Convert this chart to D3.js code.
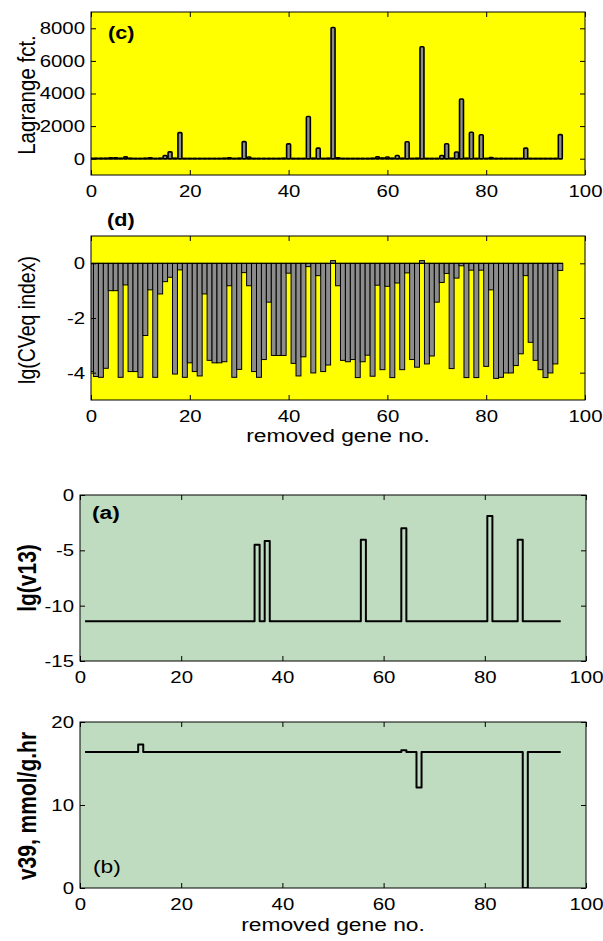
<!DOCTYPE html>
<html>
<head>
<meta charset="utf-8">
<script src="https://cdn.jsdelivr.net/npm/d3@7"></script>
<style>
  body { margin: 0; background: #fff; }
  svg { display: block; }
</style>
</head>
<body>
<svg id="fig" width="603" height="941"></svg>
<script>
// ---- data ---------------------------------------------------------------
// genes 0..95 for the bar panels (c) and (d)
const barGenes = d3.range(0, 96);

// (c) Lagrange function per removed gene
const lagrange = [
  20, 20, 20, 30, 60, 60, 30, 110, 20, 10,
  10, 20, 50, 10, 20, 200, 420, 30, 1600, 10,
  10, 10, 10, 10, 10, 10, 10, 20, 60, 10,
  20, 1050, 100, 10, 10, 10, 10, 10, 10, 20,
  910, 10, 10, 10, 2590, 20, 650, 10, 20, 8050,
  60, 10, 10, 10, 10, 10, 10, 20, 110, 40,
  100, 20, 200, 20, 1040, 10, 20, 6870, 10, 10,
  10, 200, 920, 20, 410, 3660, 20, 1620, 10, 1470,
  10, 70, 10, 10, 10, 10, 10, 10, 650, 10,
  10, 10, 10, 10, 10, 1480
];

// (d) lg(CVeq index) per removed gene
const cveq = [
  -3.96, -4.14, -4.17, -3.84, -1.00, -1.00, -4.17, -0.79, -3.96, -3.96,
  -4.17, -2.64, -0.97, -4.17, -1.12, -0.67, -0.51, -4.05, -0.24, -4.17,
  -3.64, -3.96, -4.12, -1.12, -3.55, -3.64, -3.64, -3.60, -0.82, -4.17,
  -3.88, -0.34, -0.82, -3.96, -4.17, -3.52, -1.42, -3.37, -3.37, -3.37,
  -0.36, -3.66, -4.12, -3.42, -0.12, -4.01, -0.45, -3.96, -3.72, 0.10,
  -0.82, -3.55, -3.60, -3.52, -4.18, -3.60, -3.36, -4.13, -0.80, -3.89,
  -0.84, -4.18, -0.72, -3.89, -0.35, -3.52, -3.80, 0.10, -3.68, -3.39,
  -1.42, -0.70, -0.37, -3.85, -0.54, -0.09, -4.18, -0.25, -4.18, -0.25,
  -3.77, -0.97, -4.21, -4.17, -4.01, -4.01, -3.74, -3.31, -0.45, -2.89,
  -3.55, -3.89, -4.18, -4.01, -3.68, -0.26
];

// genes 1..95 for the line panels (a) and (b)
const lineGenes = d3.range(1, 96);

// (a) lg(v13)
const lgV13 = [
  -11.4, -11.4, -11.4, -11.4, -11.4, -11.4, -11.4, -11.4, -11.4, -11.4,
  -11.4, -11.4, -11.4, -11.4, -11.4, -11.4, -11.4, -11.4, -11.4, -11.4,
  -11.4, -11.4, -11.4, -11.4, -11.4, -11.4, -11.4, -11.4, -11.4, -11.4,
  -11.4, -11.4, -11.4, -11.4, -4.5, -11.4, -4.15, -11.4, -11.4, -11.4,
  -11.4, -11.4, -11.4, -11.4, -11.4, -11.4, -11.4, -11.4, -11.4, -11.4,
  -11.4, -11.4, -11.4, -11.4, -11.4, -4.05, -11.4, -11.4, -11.4, -11.4,
  -11.4, -11.4, -11.4, -3.0, -11.4, -11.4, -11.4, -11.4, -11.4, -11.4,
  -11.4, -11.4, -11.4, -11.4, -11.4, -11.4, -11.4, -11.4, -11.4, -11.4,
  -1.9, -11.4, -11.4, -11.4, -11.4, -11.4, -4.05, -11.4, -11.4, -11.4,
  -11.4, -11.4, -11.4, -11.4, -11.4
];

// (b) v39, mmol/g.hr
const v39 = [
  16.4, 16.4, 16.4, 16.4, 16.4, 16.4, 16.4, 16.4, 16.4, 16.4,
  16.4, 17.3, 16.4, 16.4, 16.4, 16.4, 16.4, 16.4, 16.4, 16.4,
  16.4, 16.4, 16.4, 16.4, 16.4, 16.4, 16.4, 16.4, 16.4, 16.4,
  16.4, 16.4, 16.4, 16.4, 16.4, 16.4, 16.4, 16.4, 16.4, 16.4,
  16.4, 16.4, 16.4, 16.4, 16.4, 16.4, 16.4, 16.4, 16.4, 16.4,
  16.4, 16.4, 16.4, 16.4, 16.4, 16.4, 16.4, 16.4, 16.4, 16.4,
  16.4, 16.4, 16.4, 16.6, 16.4, 16.4, 12.1, 16.4, 16.4, 16.4,
  16.4, 16.4, 16.4, 16.4, 16.4, 16.4, 16.4, 16.4, 16.4, 16.4,
  16.4, 16.4, 16.4, 16.4, 16.4, 16.4, 16.4, 0, 16.4, 16.4,
  16.4, 16.4, 16.4, 16.4, 16.4
];

// tick values
const geneTicks = [0, 20, 40, 60, 80, 100];
const lagrangeTicks = [0, 2000, 4000, 6000, 8000];
const cveqTicks = [-4, -2, 0];
const v13Ticks = [-15, -10, -5, 0];
const v39Ticks = [0, 10, 20];

// ---- drawing ------------------------------------------------------------
const FONT = "'Liberation Sans', Arial, Helvetica, sans-serif";
const SX = 1.2;              // lettering is drawn slightly wide
const YELLOW = "#ffff00";
const GREEN = "#c0dcc0";
const BAR_GRAY = "#8c8c8c";
const svg = d3.select("#fig");
const fmt = d => String(d);

function panel(o) {
  const x = d3.scaleLinear().domain([0, 100]).range([o.left, o.right]);
  const y = d3.scaleLinear().domain(o.yDomain).range([o.bottom, o.top]);
  const g = svg.append("g");

  g.append("rect")
    .attr("x", o.left).attr("y", o.top)
    .attr("width", o.right - o.left).attr("height", o.bottom - o.top)
    .attr("fill", o.bg);

  g.append("clipPath").attr("id", "clip-" + o.id)
    .append("rect")
    .attr("x", o.left).attr("y", o.top)
    .attr("width", o.right - o.left).attr("height", o.bottom - o.top);

  const plot = g.append("g").attr("clip-path", `url(#clip-${o.id})`);

  const styleAxis = sel => {
    sel.attr("font-size", 17).attr("font-family", FONT);
    sel.select(".domain").remove();
    sel.selectAll(".tick line").attr("stroke", "#000").attr("stroke-width", 1);
    sel.selectAll(".tick text").attr("fill", "#000").attr("transform", `scale(${SX},1)`);
  };

  const axes = g.append("g");
  axes.append("g").attr("transform", `translate(0,${o.bottom})`)
    .call(d3.axisBottom(x).tickValues(geneTicks).tickSize(-5).tickPadding(10).tickFormat(fmt))
    .call(styleAxis);
  axes.append("g").attr("transform", `translate(0,${o.top})`)
    .call(d3.axisTop(x).tickValues(geneTicks).tickSize(-5).tickFormat(""))
    .call(styleAxis);
  axes.append("g").attr("transform", `translate(${o.left},0)`)
    .call(d3.axisLeft(y).tickValues(o.yTicks).tickSize(-5).tickPadding(5).tickFormat(fmt))
    .call(styleAxis);
  axes.append("g").attr("transform", `translate(${o.right},0)`)
    .call(d3.axisRight(y).tickValues(o.yTicks).tickSize(-5).tickFormat(""))
    .call(styleAxis);

  return { g, plot, axes, x, y, o };
}

function finishBox(p) {
  const o = p.o;
  p.g.append("rect")
    .attr("x", o.left).attr("y", o.top)
    .attr("width", o.right - o.left).attr("height", o.bottom - o.top)
    .attr("fill", "none").attr("stroke", "#000").attr("stroke-width", 1);
}

function label(str, x, y, opt = {}) {
  svg.append("text")
    .text(str)
    .attr("font-family", FONT)
    .attr("font-size", opt.size || 18)
    .attr("font-weight", opt.bold ? "bold" : "normal")
    .attr("text-anchor", opt.anchor || "start")
    .attr("fill", "#000")
    .attr("transform", `translate(${x},${y}) scale(${SX},1)` + (opt.rotate ? " rotate(-90)" : ""));
}

// (c) Lagrange function bars
const pc = panel({ id: "c", left: 91, right: 585, top: 12, bottom: 175,
  yDomain: [-1000, 9000], yTicks: lagrangeTicks, bg: YELLOW });
pc.plot.append("line")
  .attr("x1", pc.x(-0.5)).attr("x2", pc.x(95.5))
  .attr("y1", pc.y(0)).attr("y2", pc.y(0))
  .attr("stroke", "#000").attr("stroke-width", 1.8);
pc.plot.selectAll("rect.bar")
  .data(barGenes.map(i => ({ gene: i, v: lagrange[i] })))
  .join("rect").attr("class", "bar")
  .attr("x", d => pc.x(d.gene - 0.4))
  .attr("width", pc.x(0.8) - pc.x(0))
  .attr("y", d => pc.y(Math.max(0, d.v)))
  .attr("height", d => Math.abs(pc.y(d.v) - pc.y(0)))
  .attr("rx", 1)
  .attr("fill", BAR_GRAY).attr("stroke", "#000").attr("stroke-width", 1.6);
finishBox(pc);

// (d) lg(CVeq index) bars
const pd = panel({ id: "d", left: 91, right: 585, top: 236, bottom: 400,
  yDomain: [-5, 1], yTicks: cveqTicks, bg: YELLOW });
pd.plot.selectAll("rect.bar")
  .data(barGenes.map(i => ({ gene: i, v: cveq[i] })))
  .join("rect").attr("class", "bar")
  .attr("x", d => pd.x(d.gene - 0.5))
  .attr("width", pd.x(1) - pd.x(0))
  .attr("y", d => pd.y(Math.max(0, d.v)))
  .attr("height", d => Math.abs(pd.y(d.v) - pd.y(0)))
  .attr("fill", BAR_GRAY).attr("stroke", "#000").attr("stroke-width", 1);
pd.plot.append("line")
  .attr("x1", pd.x(-0.5)).attr("x2", pd.x(95.5))
  .attr("y1", pd.y(0)).attr("y2", pd.y(0))
  .attr("stroke", "#000").attr("stroke-width", 1);
finishBox(pd);

// (a) lg(v13) step line
const pa = panel({ id: "a", left: 80, right: 586, top: 495, bottom: 661,
  yDomain: [-15, 0], yTicks: v13Ticks, bg: GREEN });
pa.plot.append("path")
  .datum(lineGenes.map((gnum, i) => [gnum, lgV13[i]]))
  .attr("d", d3.line().x(d => pa.x(d[0])).y(d => pa.y(d[1])).curve(d3.curveStep))
  .attr("fill", "none").attr("stroke", "#000").attr("stroke-width", 2)
  .attr("stroke-linejoin", "round");
finishBox(pa);

// (b) v39 step line
const pb = panel({ id: "b", left: 80, right: 586, top: 722, bottom: 888,
  yDomain: [0, 20], yTicks: v39Ticks, bg: GREEN });
pb.plot.append("path")
  .datum(lineGenes.map((gnum, i) => [gnum, v39[i]]))
  .attr("d", d3.line().x(d => pb.x(d[0])).y(d => pb.y(d[1])).curve(d3.curveStep))
  .attr("fill", "none").attr("stroke", "#000").attr("stroke-width", 2)
  .attr("stroke-linejoin", "round");
finishBox(pb);

// panel tags
label("(c)", 108, 38.5, { bold: true, size: 18 });
label("(d)", 107, 226, { bold: true, size: 18 });
label("(a)", 92, 519, { bold: true, size: 19 });
label("(b)", 93, 873, { size: 19 });

// axis titles
label("Lagrange fct.", 35, 95, { rotate: true, anchor: "middle", size: 20.5 });
label("lg(CVeq index)", 35, 320, { rotate: true, anchor: "middle", size: 19.5 });
label("lg(v13)", 36, 578, { rotate: true, anchor: "middle", size: 21, bold: true });
label("v39, mmol/g.hr", 36, 806, { rotate: true, anchor: "middle", size: 21, bold: true });
label("removed gene no.", 338, 442, { anchor: "middle", size: 19 });
label("removed gene no.", 333, 931, { anchor: "middle", size: 19 });
</script>
</body>
</html>
